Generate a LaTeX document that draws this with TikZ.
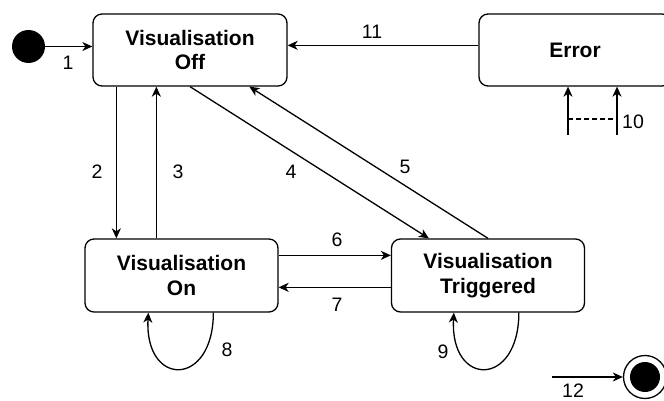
\documentclass[tikz,border=0pt]{standalone}
\usepackage{fontspec}
\setmainfont{Liberation Sans}
\usetikzlibrary{arrows.meta,calc}
\begin{document}
\begin{tikzpicture}[x=1pt,y=-1pt,
  state/.style={draw,line width=1.3pt,rounded corners=9pt,align=center,
    font=\bfseries\fontsize{21}{24.5}\selectfont,inner sep=0pt},
  lbl/.style={font=\fontsize{19.5}{22}\selectfont,inner sep=0pt},
  conn/.style={line width=1.3pt,-{Stealth[length=10pt,width=9pt,inset=3pt]}},
  plain/.style={line width=1.3pt}]
\useasboundingbox (0,0) rectangle (664,401);
\clip (0,0) rectangle (664,401);
\fill[white] (0,0) rectangle (664,401);
% states
\node[state,minimum width=194pt,minimum height=72pt] (off) at (190,50) {Visualisation\\Off};
\node[state,minimum width=192pt,minimum height=72pt] (err) at (575,50) {Error};
\node[state,minimum width=193pt,minimum height=73pt] (on) at (181.5,275.5) {Visualisation\\On};
\node[state,minimum width=193pt,minimum height=73pt] (trig) at (488,275.5) {Visualisation\\Triggered};
\node[circle,fill=black,minimum size=33pt,inner sep=0pt] (init) at (28.5,46.5) {};
\node[circle,draw,line width=1.3pt,minimum size=43pt,inner sep=0pt] (final) at (645,377) {};
\node[circle,fill=black,minimum size=30pt,inner sep=0pt] (finalin) at (final.center) {};
% free ends
\coordinate (s10a) at (568,135);
\coordinate (s10b) at (617,135);
\coordinate (s12) at (552,377);
% connectors
\draw[conn] (init.east) -- (init.east -| off.west);
\draw[conn] ($(err.north west)+(0,32)$) -- ($(off.north east)+(0,32)$);
\draw[conn] ($(off.south west)+(24,0)$) -- ($(on.north west)+(32,0)$);
\draw[conn] ($(on.north west)+(72,0)$) -- ($(off.south west)+(64,0)$);
\draw[conn] (off.south) -- ($(trig.north west)+(38,0)$);
\draw[conn] (trig.north) -- ($(off.south west)+(157,0)$);
\draw[conn] ($(on.north east)+(0,17)$) -- ($(trig.north west)+(0,17)$);
\draw[conn] ($(trig.north west)+(0,49)$) -- ($(on.north east)+(0,49)$);
\draw[conn] ($(on.south west)+(129,0)$) .. controls ($(on.south west)+(129,75)$) and ($(on.south west)+(60,75)$) .. ($(on.south west)+(64,0)$);
\draw[conn] ($(trig.south west)+(128,0)$) .. controls ($(trig.south west)+(128,75)$) and ($(trig.south west)+(59,75)$) .. ($(trig.south west)+(63,0)$);
\draw[conn] (s10a) -- (s10a |- err.south);
\draw[conn] (s10b) -- (s10b |- err.south);
\draw[plain,dashed,dash pattern=on 5pt off 3pt] ($(s10a)+(0,-16)$) -- ($(s10b)+(0,-16)$);
\draw[conn] (s12) -- (final.west);
% labels
\node[lbl] (l1) at (68,63) {1};
\node[lbl] (l11) at (372,32) {11};
\node[lbl] (l2) at (97,172) {2};
\node[lbl] (l3) at (178,172) {3};
\node[lbl] (l4) at (291,172) {4};
\node[lbl] (l5) at (405,167) {5};
\node[lbl] (l6) at (337,240) {6};
\node[lbl] (l7) at (337,305) {7};
\node[lbl] (l8) at (227,350) {8};
\node[lbl] (l9) at (443,352) {9};
\node[lbl] (l10) at (633,122) {10};
\node[lbl] (l12) at (573,390.5) {12};
\end{tikzpicture}
\end{document}
